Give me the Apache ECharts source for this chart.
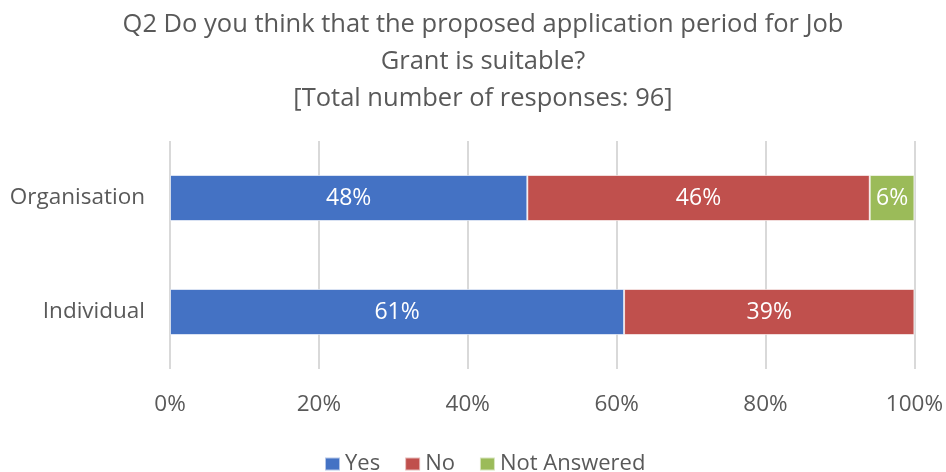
<!DOCTYPE html>
<html>
<head>
<meta charset="utf-8">
<script src="https://cdn.jsdelivr.net/npm/echarts@6/dist/echarts.min.js"></script>
<style>
  html, body { margin: 0; padding: 0; background: #fff; }
  #chart { width: 946px; height: 472px; }
</style>
</head>
<body>
<div id="chart"></div>
<script>
// Survey responses (percent of respondents)
const categories = ['Individual', 'Organisation'];
const yesValues = [61, 48];
const noValues = [39, 46];
const notAnsweredValues = [0, 6];
const xTicks = ['0%', '20%', '40%', '60%', '80%', '100%'];

const FONT = '"Open Sans", "Noto Sans", sans-serif';
const GREY = '#595959';

const chart = echarts.init(document.getElementById('chart'), null, { renderer: 'canvas' });

function barSeries(name, data, color) {
  return {
    name: name,
    type: 'bar',
    stack: 'total',
    barWidth: 46,
    data: data.map(v => (v > 0 ? v : null)),
    itemStyle: { color: color, borderColor: 'rgba(255,255,255,0.6)', borderWidth: 1 },
    label: {
      show: true,
      position: 'inside',
      color: '#ffffff',
      fontFamily: FONT,
      fontSize: 23,
      formatter: p => p.value + '%'
    },
    emphasis: { disabled: true }
  };
}

chart.setOption({
  animation: false,
  title: {
    text: 'Q2 Do you think that the proposed application period for Job\nGrant is suitable?\n[Total number of responses: 96]',
    left: 478,
    top: 1,
    textAlign: 'center',
    textStyle: {
      fontFamily: FONT,
      fontSize: 25.5,
      fontWeight: 'normal',
      color: GREY,
      lineHeight: 37
    }
  },
  legend: {
    top: 448,
    left: 319,
    padding: 5,
    itemWidth: 15,
    itemHeight: 13,
    itemGap: 24,
    icon: 'rect',
    textStyle: { fontFamily: FONT, fontSize: 22, color: GREY },
    data: ['Yes', 'No', 'Not Answered']
  },
  grid: { left: 170, right: 28, top: 141, height: 228, containLabel: false },
  xAxis: {
    type: 'value',
    min: 0,
    max: 100,
    interval: 20,
    axisLine: { show: false },
    axisTick: { show: false },
    axisLabel: {
      fontFamily: FONT,
      fontSize: 22.5,
      color: GREY,
      margin: 24,
      formatter: v => xTicks[Math.round(v / 20)]
    },
    splitLine: { show: true, lineStyle: { color: '#d9d9d9', width: 2 } }
  },
  yAxis: {
    type: 'category',
    data: categories,
    axisLine: { show: false },
    axisTick: { show: false },
    axisLabel: { fontFamily: FONT, fontSize: 22.5, color: GREY, margin: 25 }
  },
  series: [
    barSeries('Yes', yesValues, '#4472c4'),
    barSeries('No', noValues, '#c0504d'),
    barSeries('Not Answered', notAnsweredValues, '#9bbb59')
  ]
});
</script>
</body>
</html>
